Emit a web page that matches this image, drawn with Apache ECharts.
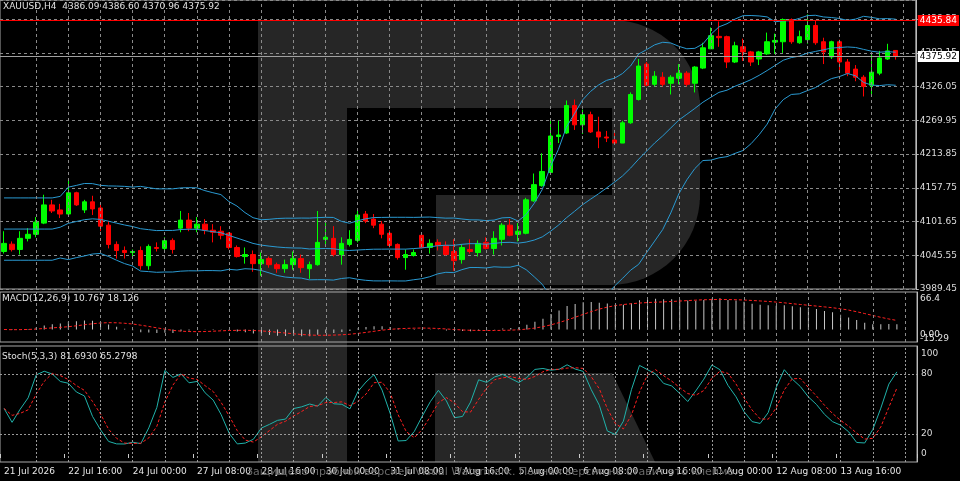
<!DOCTYPE html>
<html><head><meta charset="utf-8">
<script src="https://cdn.jsdelivr.net/npm/echarts@6/dist/echarts.min.js"></script>
<style>html,body{margin:0;padding:0;background:#000;}#c{width:960px;height:481px;}</style>
</head><body><div id="c"></div>
<script>
const opens=[4051.8,4064.0,4055.2,4073.7,4080.4,4099.0,4129.3,4120.9,4114.1,4149.5,4120.9,4134.4,4124.2,4095.6,4063.6,4053.5,4050.1,4053.5,4028.2,4058.5,
4057.0,4070.3,4090.6,4104.0,4090.6,4097.3,4087.2,4085.5,4082.1,4058.5,4043.4,4046.7,4031.6,4040.0,4029.9,4023.2,4029.9,4040.0,4023.2,4029.9,
4072.0,4073.7,4046.7,4063.6,4070.3,4114.1,4105.7,4097.3,4082.1,4063.6,4041.7,4045.1,4078.8,4058.5,4067.0,4061.9,4051.8,4038.3,4055.2,4050.1,
4067.0,4056.9,4072.0,4095.6,4080.4,4082.1,4136.0,4161.3,4183.2,4243.0,4248.9,4294.5,4262.4,4279.3,4250.6,4242.2,4237.1,4232.1,4265.8,4304.5,
4363.5,4329.8,4341.6,4331.5,4339.9,4348.4,4331.5,4356.8,4388.8,4409.5,4409.0,4366.9,4392.2,4383.7,4371.9,4380.4,4400.0,4400.6,4437.6,4398.9,
4404.0,4427.6,4400.6,4375.3,4400.6,4366.9,4355.1,4341.6,4328.1,4348.4,4371.9,4386.09];
const closes=[4065.3,4055.0,4073.7,4080.4,4100.7,4129.3,4119.2,4114.1,4149.5,4129.3,4134.4,4122.6,4093.9,4063.6,4053.5,4050.1,4051.8,4028.2,4060.2,4056.9,
4069.8,4055.2,4104.0,4090.6,4097.3,4087.2,4083.8,4078.8,4058.5,4043.4,4046.7,4031.6,4038.3,4029.9,4023.2,4029.9,4040.0,4024.9,4029.9,4067.0,
4075.4,4046.7,4065.3,4072.0,4112.5,4102.4,4095.6,4080.4,4061.9,4041.7,4046.7,4050.1,4058.5,4065.3,4061.9,4046.7,4036.6,4058.5,4051.8,4065.3,
4056.9,4073.7,4095.6,4078.8,4085.5,4137.7,4163.0,4184.9,4243.9,4245.6,4294.5,4262.4,4279.3,4250.6,4242.2,4240.5,4232.1,4265.8,4312.9,4360.2,
4328.1,4343.3,4329.8,4341.6,4348.4,4329.8,4358.5,4390.5,4410.7,4407.3,4366.9,4393.9,4383.7,4366.9,4383.7,4400.6,4402.8,4437.6,4400.6,4409.0,
4427.6,4398.9,4383.7,4400.6,4366.9,4348.4,4341.6,4326.4,4350.0,4373.6,4385.4,4375.92];
const lows=[4048.4,4051.8,4046.7,4068.6,4075.4,4097.3,4115.8,4107.4,4112.5,4127.6,4115.8,4112.5,4085.5,4056.9,4040.0,4040.0,4043.4,4021.5,4021.5,4051.8,
4053.5,4048.4,4083.8,4085.5,4083.8,4080.4,4067.0,4072.0,4055.2,4041.7,4031.6,4018.1,4011.4,4024.9,4016.4,4016.4,4021.5,4016.4,4006.4,4028.2,
4060.2,4043.4,4029.9,4060.2,4067.0,4099.0,4090.6,4073.7,4058.5,4038.3,4021.5,4043.4,4056.9,4048.4,4053.5,4045.1,4019.8,4031.6,4048.4,4043.4,
4055.2,4046.7,4061.9,4077.1,4068.6,4080.4,4134.4,4159.6,4181.5,4232.1,4247.3,4254.0,4247.3,4248.9,4223.6,4233.8,4230.4,4232.1,4264.1,4302.9,
4326.4,4326.4,4326.4,4312.9,4329.8,4326.4,4316.3,4355.1,4388.8,4392.2,4356.8,4365.2,4368.6,4360.2,4361.8,4378.7,4380.4,4382.1,4397.2,4397.2,
4397.2,4395.5,4363.5,4371.9,4348.4,4343.3,4334.9,4309.6,4309.6,4345.0,4370.3,4370.96];
const highs=[4085.5,4068.6,4085.5,4090.6,4109.1,4146.2,4137.7,4131.0,4169.8,4151.2,4137.7,4144.5,4131.0,4102.4,4068.6,4060.2,4055.2,4060.2,4063.6,4067.0,
4075.4,4073.7,4119.2,4115.8,4109.1,4105.7,4097.3,4093.9,4083.8,4061.9,4058.5,4053.5,4050.1,4043.4,4033.3,4038.3,4051.8,4046.7,4035.0,4119.2,
4102.4,4093.9,4075.4,4087.2,4122.6,4119.2,4114.1,4102.4,4087.2,4065.3,4055.2,4055.2,4083.8,4072.0,4072.0,4068.6,4072.0,4063.6,4072.0,4070.3,
4075.4,4085.5,4099.0,4105.7,4099.0,4141.1,4181.5,4215.2,4270.9,4269.2,4302.9,4304.5,4287.7,4284.3,4275.9,4252.3,4254.0,4269.2,4316.3,4371.9,
4366.9,4351.7,4350.0,4345.0,4363.5,4351.7,4360.0,4398.9,4424.2,4434.3,4410.7,4400.6,4405.7,4385.4,4385.4,4415.8,4414.1,4439.3,4439.3,4419.1,
4446.1,4436.0,4407.3,4402.3,4404.0,4371.9,4361.8,4345.0,4380.4,4385.4,4397.2,4386.60];
const tickIdx=[0,8,16,24,32,40,48,56,64,72,80,88,96,104];
const tickLabels=['21 Jul 2026','22 Jul 16:00','24 Jul 00:00','27 Jul 08:00','28 Jul 16:00','30 Jul 00:00','31 Jul 08:00','3 Aug 16:00','5 Aug 00:00','6 Aug 08:00','7 Aug 16:00','11 Aug 00:00','12 Aug 08:00','13 Aug 16:00'];
const priceTicks={min:3989.45,step:56.1};
const redLevel=4435.84, lastPrice=4375.92;

const NB=opens.length, NC=NB+2;
const cats=[];for(let i=0;i<NC;i++)cats.push('b'+i);
const ohlc=opens.map((o,i)=>[o,closes[i],lows[i],highs[i]]);
const bbU=[],bbM=[],bbL=[];
for(let i=0;i<NB;i++){const s=Math.max(0,i-19),e=Math.max(i,6);const w=closes.slice(s,e+1);const m=w.reduce((a,b)=>a+b,0)/w.length;const sd=Math.sqrt(w.reduce((a,b)=>a+(b-m)*(b-m),0)/w.length);bbM.push(+m.toFixed(2));bbU.push(+(m+2*sd).toFixed(2));bbL.push(+(m-2*sd).toFixed(2));}
function ema(arr,n){const k=2/(n+1);const r=[];arr.forEach((v,i)=>r.push(i?v*k+r[i-1]*(1-k):v));return r;}
const e12=ema(closes,12),e26=ema(closes,26);
const macd=closes.map((c,i)=>+(e12[i]-e26[i]).toFixed(3));
const sig=macd.map((v,i)=>{const w=macd.slice(Math.max(0,i-8),i+1);return +(w.reduce((a,b)=>a+b,0)/w.length).toFixed(3);});
const num=[],den=[];
for(let i=0;i<NB;i++){const s=Math.max(0,i-4);const hh=Math.max(...highs.slice(s,i+1)),ll=Math.min(...lows.slice(s,i+1));num.push(closes[i]-ll);den.push(hh-ll);}
const stK=num.map((v,i)=>{const s=Math.max(0,i-2);let a=0,b=0;for(let j=s;j<=i;j++){a+=num[j];b+=den[j];}return b?+(100*a/b).toFixed(2):50;});
const stD=stK.map((v,i)=>{const w=stK.slice(Math.max(0,i-2),i+1);return +(w.reduce((a,b)=>a+b,0)/w.length).toFixed(2);});

const F='DejaVu Sans';
const vlines={silent:true,symbol:'none',label:{show:false},lineStyle:{color:'#8a8a8a',type:[3,3],width:1},data:[]};
for(let i=4;i<NC;i+=4)vlines.data.push({xAxis:'b'+i});
function xa(gi,show){return {type:'category',gridIndex:gi,data:cats,boundaryGap:true,
 axisLine:{show:false},axisTick:{show:show,length:4,lineStyle:{color:'#ccc'},interval:(i)=>tickIdx.includes(i)},
 splitLine:{show:false},
 axisLabel:{show:show,interval:0,color:'#e6e6e6',fontFamily:F,fontSize:9,align:'left',margin:5,hideOverlap:false,
  formatter:(v,i)=>{const k=tickIdx.indexOf(i);return k>=0?tickLabels[k]:'';}}};}
const grids=[{left:-4,right:43,top:0,height:289},{left:-4,right:43,top:292,height:50},{left:-4,right:43,top:346,height:116}];
grids.forEach(g=>{g.show=true;g.borderColor='#a8a8a8';g.borderWidth=1;g.backgroundColor='transparent';});
const W='#262626';
const option={backgroundColor:'#000',animation:false,grid:grids,
 xAxis:[xa(0,false),xa(1,false),xa(2,true)],
 yAxis:[
  {type:'value',gridIndex:0,position:'right',min:priceTicks.min,max:4470,interval:priceTicks.step,
   axisLine:{show:true,lineStyle:{color:'#bbb'}},axisTick:{show:true,length:3,lineStyle:{color:'#bbb'}},
   axisLabel:{color:'#ddd',fontFamily:F,fontSize:9,margin:4,showMaxLabel:false,formatter:v=>v.toFixed(2)},
   splitLine:{show:true,lineStyle:{color:'#8a8a8a',type:[3,3]}}},
  {type:'value',gridIndex:1,position:'right',min:-25,max:75,axisLine:{show:true,lineStyle:{color:'#bbb'}},axisLabel:{show:false},axisTick:{show:false},splitLine:{show:false}},
  {type:'value',gridIndex:2,position:'right',min:-8,max:108,interval:4,axisLine:{show:true,lineStyle:{color:'#bbb'}},axisTick:{show:false},splitLine:{show:false},
   axisLabel:{color:'#ddd',fontFamily:F,fontSize:9,margin:4,formatter:v=>[0,20,80,100].includes(v)?String(v):''}}],
 graphic:[
  {type:'rect',z:-10,shape:{x:258,y:20,width:89,height:442},style:{fill:W}},
  {type:'rect',z:-10,shape:{x:347,y:20,width:353,height:88,r:[0,95,0,0]},style:{fill:W}},
  {type:'rect',z:-10,shape:{x:612,y:100,width:88,height:100},style:{fill:W}},
  {type:'rect',z:-10,shape:{x:436,y:195,width:264,height:90,r:[0,0,95,0]},style:{fill:W}},
  {type:'polygon',z:-10,shape:{points:[[435,373],[612,373],[655,462],[435,462]]},style:{fill:W}},
  {type:'text',left:3,top:2,z:10,style:{text:'XAUUSD,H4  4386.09 4386.60 4370.96 4375.92',fill:'#e0e0e0',font:'9px "DejaVu Sans"'}},
  {type:'text',left:2,top:294,z:10,style:{text:'MACD(12,26,9) 10.767 18.126',fill:'#e0e0e0',font:'9px "DejaVu Sans"'}},
  {type:'text',left:2,top:352,z:10,style:{text:'Stoch(5,3,3) 81.6930 65.2798',fill:'#e0e0e0',font:'9px "DejaVu Sans"'}},
  {type:'text',left:920,top:294,z:10,style:{text:'66.4',fill:'#e0e0e0',font:'9px "DejaVu Sans"'}},
  {type:'text',left:920,top:330,z:10,style:{text:'0.00',fill:'#e0e0e0',font:'9px "DejaVu Sans"'}},
  {type:'text',left:920,top:334,z:10,style:{text:'-15.29',fill:'#e0e0e0',font:'9px "DejaVu Sans"'}},
  {type:'text',left:246,top:467,z:10,style:{text:'Защищено пробной версией Visual Watermark. Полная версия не ставит это клеймо.',fill:'#6a6a6a',font:'11px "DejaVu Sans"'}}
 ],
 series:[
  {type:'candlestick',xAxisIndex:0,yAxisIndex:0,data:ohlc,barWidth:5,
   itemStyle:{color:'#00ff00',color0:'#ff0000',borderColor:'#00ff00',borderColor0:'#ff0000',borderWidth:1},
   markLine:{silent:true,symbol:'none',data:[
     {yAxis:redLevel,lineStyle:{color:'#ff0000',type:'solid',width:1},label:{show:true,position:'end',formatter:redLevel.toFixed(2),backgroundColor:'#ff0000',color:'#fff',fontFamily:F,fontSize:9,padding:[1,2],distance:2}},
     {yAxis:lastPrice,lineStyle:{color:'#a0a0a0',type:'solid',width:1},label:{show:true,position:'end',formatter:lastPrice.toFixed(2),backgroundColor:'#fff',color:'#000',fontFamily:F,fontSize:9,padding:[1,2],distance:2}}]}},
  {type:'line',xAxisIndex:0,yAxisIndex:0,data:bbU,symbol:'none',lineStyle:{color:'#2a9ad2',width:1}},
  {type:'line',xAxisIndex:0,yAxisIndex:0,data:bbM,symbol:'none',lineStyle:{color:'#2a9ad2',width:1}},
  {type:'line',xAxisIndex:0,yAxisIndex:0,data:bbL,symbol:'none',lineStyle:{color:'#2a9ad2',width:1},markLine:vlines},
  {type:'bar',xAxisIndex:1,yAxisIndex:1,data:macd,barWidth:1,itemStyle:{color:'#c8c8c8'},markLine:vlines},
  {type:'line',xAxisIndex:1,yAxisIndex:1,data:sig,symbol:'none',lineStyle:{color:'#ff2020',width:1,type:[3,2]}},
  {type:'line',xAxisIndex:2,yAxisIndex:2,data:stK,symbol:'none',lineStyle:{color:'#20b2aa',width:1},
   markLine:{silent:true,symbol:'none',label:{show:false},lineStyle:{color:'#9a9a9a',type:[2,2],width:1},data:[{yAxis:20},{yAxis:80}].concat(vlines.data)}},
  {type:'line',xAxisIndex:2,yAxisIndex:2,data:stD,symbol:'none',lineStyle:{color:'#ff2020',width:1,type:[3,2]}}
 ]};
const ch=echarts.init(document.getElementById('c'));ch.setOption(option);
</script></body></html>
